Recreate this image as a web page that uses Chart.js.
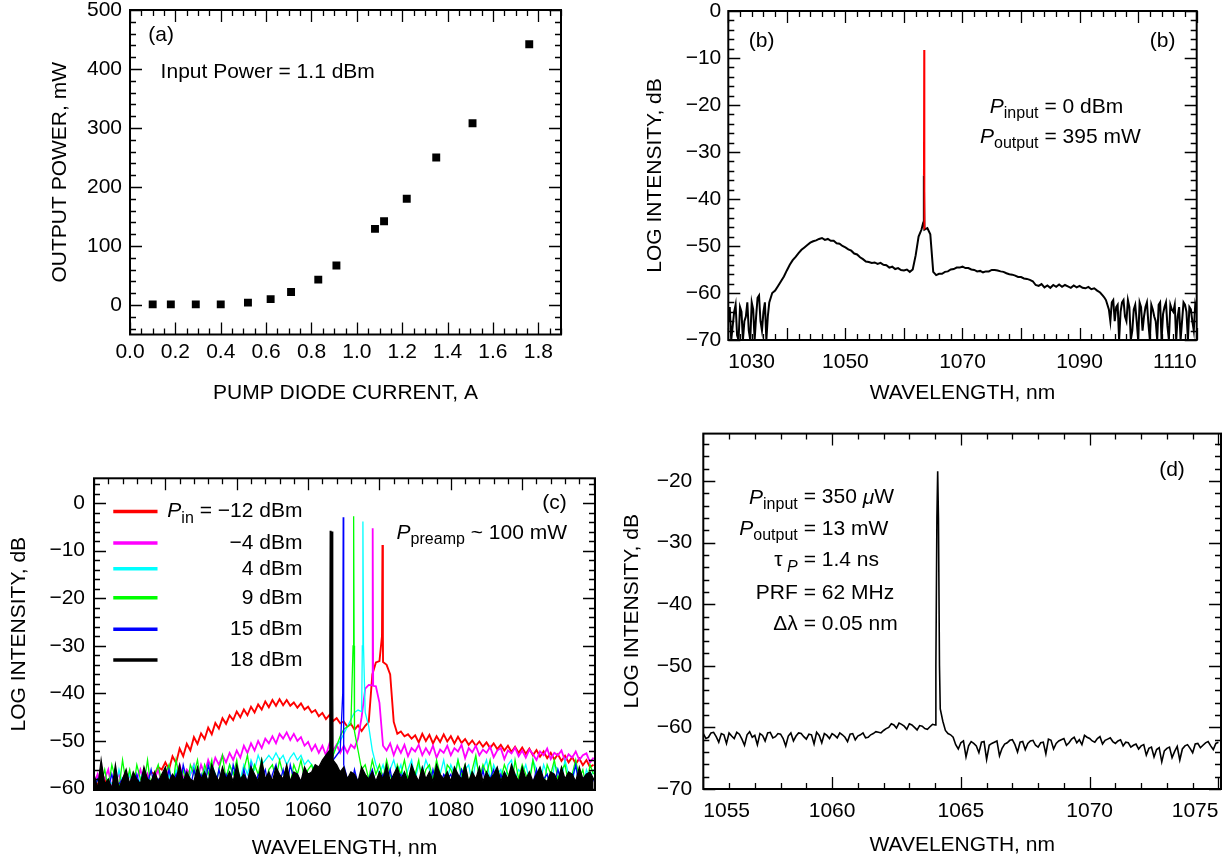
<!DOCTYPE html>
<html>
<head>
<meta charset="utf-8">
<script src="https://cdn.jsdelivr.net/npm/chart.js@4.4.1/dist/chart.umd.min.js"></script>
<style>
  body { margin: 0; background: #fff; width: 1231px; height: 863px; overflow: hidden; position: relative; }
  canvas { position: absolute; }
</style>
</head>
<body>
<canvas id="ca" width="600" height="440" style="left:0;top:-20px"></canvas>
<canvas id="cb" width="616" height="440" style="left:615px;top:-20px"></canvas>
<canvas id="cc" width="615" height="423" style="left:0;top:440px"></canvas>
<canvas id="cd" width="616" height="453" style="left:615px;top:410px"></canvas>
<script>
// ---------- (a) output power vs pump current ----------
const pumpCurrent = [0.10, 0.18, 0.29, 0.40, 0.52, 0.62, 0.71, 0.83, 0.91, 1.08, 1.12, 1.22, 1.35, 1.51, 1.76];
const outputPower = [1, 1, 1, 1, 4, 10, 22, 43, 67, 129, 142, 180, 250, 308, 442];
const xTicksA = [0, 0.2, 0.4, 0.6, 0.8, 1.0, 1.2, 1.4, 1.6, 1.8];
const yTicksA = [0, 100, 200, 300, 400, 500];

// ---------- (b) spectrum, 1030..1110 nm every 0.5 nm ----------
const startB = 1030, stepB = 0.5;
const specB = [
  -66, -70, -64, -69, -63, -70, -65, -68, -62, -70,
  -61, -66, -64, -70, -62, -60, -59.5, -58.5, -57.5, -56.5,
  -55.2, -54, -53, -52.3, -51.5, -50.8, -50.3, -49.8, -49.3, -49,
  -48.8, -48.5, -48.3, -48.7, -48.5, -48.9, -48.9, -49.4, -49.5, -50.0,
  -50.3, -50.7, -51.0, -51.6, -51.8, -52.4, -52.8, -53.3, -53.4, -53.6,
  -53.5, -53.8, -53.6, -54.0, -54.1, -54.6, -54.4, -54.9, -54.7, -55.1,
  -55.2, -55.0, -55.5, -55.0, -52, -48, -46.5, -46.5, -46.2, -47.5,
  -55.5, -56.2, -55.9, -55.9, -55.5, -55.4, -55.0, -54.9, -54.6, -54.6,
  -54.4, -54.7, -54.7, -55.0, -55.1, -55.4, -55.3, -55.6, -55.4, -55.4,
  -55.1, -55.1, -55.2, -55.4, -55.5, -55.8, -56.0, -56.1, -56.3, -56.6,
  -56.6, -56.9, -57.0, -57.2, -57.5, -58.3, -58.5, -58.1, -58.8, -58.4,
  -58.9, -58.3, -58.7, -58.2, -58.7, -58.3, -58.6, -58.9, -58.4, -58.8,
  -58.5, -58.9, -59.0, -58.7, -59.2, -59.0, -59.5, -59.9, -60.6, -61.5,
  -63.5, -62, -66, -62.5, -64, -61.5, -66, -63, -68, -62.5,
  -70, -63, -65, -62, -70, -63.5, -66, -62.5, -70, -63,
  -67, -62.5, -64, -70, -63, -66, -62.5, -70, -63.5, -68,
  -64
];
// extra readings in the noisy ends of the spectrum
const noiseBx = [
  1030.25, 1030.75, 1031.25, 1031.75, 1032.25, 1032.75, 1033.25, 1033.75, 1034.25, 1034.75, 1035.25, 1035.75, 1036.25, 1036.75,
  1094.25, 1094.75, 1095.25, 1095.75, 1096.25, 1096.75, 1097.25, 1097.75, 1098.25, 1098.75, 1099.25, 1099.75,
  1100.25, 1100.75, 1101.25, 1101.75, 1102.25, 1102.75, 1103.25, 1103.75, 1104.25, 1104.75, 1105.25, 1105.75,
  1106.25, 1106.75, 1107.25, 1107.75, 1108.25, 1108.75, 1109.25, 1109.75
];
const noiseBy = [
  -63, -67, -62.5, -70, -64, -66, -62, -70, -63.5, -65, -60.5, -68, -62, -65,
  -61, -62.5, -66, -61.5, -63, -70, -62, -65, -61.5, -70, -63.5, -66,
  -62, -68, -63, -66.5, -62.5, -65, -70, -62, -64.5, -62, -70, -63.5,
  -62.5, -65, -70, -62, -64, -63, -66, -62.5
];
const peakBx = [1063.3, 1063.4];
const peakBy = [-45, -35];
const signalBx = [1063.4, 1063.45, 1063.5];
const signalBy = [-35, -8.3, -46.5];
const xTicksB = [1030, 1050, 1070, 1090, 1110];
const yTicksB = [0, -10, -20, -30, -40, -50, -60, -70];

// ---------- (c) spectra for several input powers, 1030..1100 nm every 0.5 nm ----------
const startC = 1030, stepC = 0.5;
const redC = [
  -60, -59, -60, -58, -60, -59, -60, -60, -58, -59.5,
  -60, -58, -59, -60, -57, -58, -56.5, -57, -55.5, -56,
  -54.5, -56, -53.2, -54.6, -51.6, -53.2, -50.6, -52, -49.2, -50.6,
  -48.4, -49.6, -47.2, -48.6, -46.2, -47.4, -45.2, -46.4, -44.6, -45.6,
  -43.8, -45.0, -43.4, -44.6, -42.8, -44.0, -42.3, -43.4, -41.7, -42.9,
  -41.4, -42.6, -41.2, -42.5, -41.4, -42.6, -41.9, -43.0, -42.1, -43.4,
  -42.8, -44.0, -43.5, -44.8, -44.1, -45.4, -44.5, -45.8, -45.2, -46.3,
  -45.9, -47.0, -46.4, -47.6, -46.7, -47.9, -46.8, -46, -36, -33.5,
  -33.2, -33.4, -34, -36, -46, -48.5, -48, -49, -48.6, -49.5,
  -48.8, -50.3, -48.5, -50.0, -48.7, -50.5, -49.0, -50.2, -48.6, -50.1,
  -49.0, -50.5, -49.1, -50.4, -49.6, -50.8, -49.9, -51.0, -50.1, -51.2,
  -50.3, -51.5, -50.5, -51.7, -50.8, -52.0, -51.0, -52.3, -51.2, -52.5,
  -51.4, -52.7, -51.6, -53.0, -51.9, -53.3, -52.2, -53.6, -52.5, -53.9,
  -52.8, -54.2, -53.1, -54.5, -53.4, -54.8, -53.7, -55.1, -54.0, -55.5,
  -55
];
const magentaC = [
  -59, -57, -60, -58, -56, -60, -58, -57, -60, -59,
  -57, -60, -58, -56, -59, -57, -60, -58, -56, -59,
  -58, -56, -59, -57, -55, -58, -56, -57, -55, -58,
  -55, -57, -54, -56, -53.5, -55, -53, -54.5, -52.5, -54,
  -52, -53.5, -51, -52.5, -50.5, -52, -50, -51.5, -49.5, -50.5,
  -49, -50.5, -48.5, -49.5, -48.2, -49.8, -48.5, -50, -49.2, -51,
  -50.2, -52, -50.8, -52.5, -51, -53, -50.5, -52, -50.8, -52.5,
  -51, -52.5, -50.8, -51.5, -49.5, -45, -39, -38.2, -38.3, -38.5,
  -42, -51, -52, -50.5, -53, -51, -52.5, -50.8, -53.2, -51.5,
  -52.2, -50.8, -53, -51.5, -52.8, -51, -53.5, -51.8, -52.5, -51,
  -53, -51.5, -52.2, -50.8, -53.6, -51.5, -52.4, -51, -53, -51.8,
  -52.5, -51.2, -53.4, -52, -51.5, -53.8, -52, -52.6, -51.4, -53.2,
  -52, -53.5, -51.8, -52.8, -54, -52.2, -53, -51.6, -53.8, -52.5,
  -53, -52, -54.2, -52.8, -53.5, -52.2, -54, -53, -52.6, -54.5,
  -53.5
];
const cyanC = [
  -59, -60, -57, -60, -58, -59, -60, -56, -59, -60,
  -57, -59, -60, -58, -56, -60, -59, -57, -60, -58,
  -59, -57, -60, -56, -59, -58, -60, -57, -55, -59,
  -58, -56, -59, -55, -57, -60, -56, -58, -55, -57,
  -56, -58, -55, -57, -54, -56, -53, -55, -54, -53,
  -54, -52.5, -54, -53, -55, -53.5, -52.5, -54, -53, -55,
  -54, -55, -56, -57, -56, -58, -55, -53, -51, -50,
  -48.5, -47, -45.5, -44, -43.5, -43.8, -44, -47, -52, -55,
  -57, -55, -58, -56, -54, -57, -55, -59, -56, -54,
  -58, -55, -57, -54, -56, -59, -55, -57, -54, -58,
  -55, -57, -54, -58, -56, -55, -59, -54, -57, -56,
  -54, -58, -55, -57, -56, -59, -55, -54, -58, -56,
  -57, -55, -58, -54, -56, -59, -55, -57, -60, -55,
  -56, -58, -54, -57, -59, -55, -57, -60, -56, -58,
  -56
];
const greenC = [
  -60, -58, -59, -56, -60, -55, -58, -60, -54, -59,
  -56, -60, -55, -58, -59, -54, -60, -57, -55, -59,
  -57, -55, -60, -54, -58, -56, -60, -55, -57, -54,
  -59, -55, -57, -54, -60, -56, -53, -58, -55, -57,
  -54, -59, -56, -53, -58, -55, -57, -54, -60, -56,
  -55, -58, -54, -57, -56, -59, -55, -57, -54, -58,
  -56, -55, -58, -56, -57, -55, -54, -53, -51, -49,
  -47.5, -47, -46.5, -48, -52, -56, -55, -58, -54, -57,
  -55, -58, -54, -57, -60, -55, -57, -54, -58, -56,
  -57, -54, -59, -56, -55, -58, -54, -57, -60, -55,
  -56, -58, -54, -57, -55, -59, -56, -53, -58, -55,
  -57, -54, -59, -56, -58, -55, -57, -60, -54, -58,
  -55, -57, -59, -54, -58, -56, -60, -55, -57, -54,
  -58, -56, -55, -59, -57, -54, -58, -56, -60, -55,
  -57
];
const blueC = [
  -60, -58, -60, -59, -60, -57, -60, -59, -58, -60,
  -59, -60, -57, -60, -58, -59, -56, -60, -58, -59,
  -60, -56, -59, -57, -60, -55, -58, -60, -56, -59,
  -57, -60, -55, -58, -60, -56, -59, -57, -60, -55,
  -58, -60, -56, -59, -55, -60, -57, -58, -56, -60,
  -57, -55, -59, -56, -60, -55, -58, -57, -59, -56,
  -58, -60, -56, -59, -57, -55, -56, -54, -53, -52,
  -55, -58, -60, -56, -59, -57, -60, -58, -56, -59,
  -60, -57, -59, -56, -60, -58, -57, -60, -59, -56,
  -59, -60, -57, -58, -60, -56, -59, -60, -57, -58,
  -57, -60, -59, -56, -58, -60, -57, -59, -60, -56,
  -60, -58, -56, -60, -57, -59, -60, -56, -58, -60,
  -58, -60, -57, -59, -56, -60, -58, -57, -60, -59,
  -56, -59, -60, -57, -58, -55, -60, -58, -57, -60,
  -58
];
const blackC = [
  -57, -60, -54, -59, -58, -60, -55, -60, -58, -56,
  -59, -56.5, -58, -59, -55.5, -58, -58.5, -56.5, -58.5, -57,
  -55.5, -58.5, -57, -58, -55, -58.5, -56.5, -58, -58.5, -55.5,
  -58, -56.5, -58.5, -55, -57, -58.5, -55.5, -58, -56.5, -58.5,
  -55, -58, -57, -58.5, -55.5, -57, -58.5, -54, -58, -56.5,
  -58.5, -55.5, -57, -58, -55, -58.5, -56.5, -57, -58.5, -55.5,
  -57, -56.5, -55, -55.5, -54, -53, -52, -54, -55, -56.5,
  -55.5, -58, -56.5, -57, -58.5, -55.5, -57, -58, -56.5, -58.5,
  -56.5, -58, -55, -58.5, -57, -55.5, -58, -56.5, -58.5, -55,
  -57, -58.5, -55.5, -58, -56.5, -58.5, -55, -57, -58, -56.5,
  -58.5, -55.5, -57, -58, -55, -58.5, -56.5, -58, -55.5, -58.5,
  -56.5, -58, -57, -55.5, -58.5, -56.5, -58, -55, -57, -58.5,
  -55.5, -58, -56.5, -58.5, -57, -55.5, -58, -58.5, -56.5, -57,
  -58.5, -55.5, -58, -56.5, -57, -58.5, -55.5, -58, -57, -56.5,
  -58
];
// narrow signal peaks, added on top of the 0.5 nm grid
const peakRedX = [1070.35, 1070.42, 1070.48], peakRedY = [-28, -8.8, -28];
const peakMagX = [1069.05, 1069.12], peakMagY = [-5.3, -38.4];
const peakCyanX = [1067.6, 1067.68, 1067.76], peakCyanY = [-30, -3.9, -30];
const peakGreenX = [1066.3, 1066.38, 1066.45], peakGreenY = [-30, -2.8, -30];
const peakBlueX = [1064.85, 1064.92, 1064.98], peakBlueY = [-40, -3.0, -40];
const peakBlackX = [1063.05, 1063.1, 1063.2, 1063.35, 1063.45], peakBlackY = [-30, -5.8, -20, -6.0, -40];
const legendC = ['\u221212 dBm', '\u22124 dBm', '4 dBm', '9 dBm', '15 dBm', '18 dBm'];
const colorsC = ['#ff0000', '#ff00ff', '#00ffff', '#00ff00', '#0000ff', '#000000'];
const xTicksC = [1030, 1040, 1050, 1060, 1070, 1080, 1090, 1100];
const yTicksC = [0, -10, -20, -30, -40, -50, -60];

// ---------- (d) pulsed spectrum, 1055..1075 nm every 0.2 nm, plus in-between readings ----------
const startD = 1055, stepD = 0.2;
const specD = [
  -61.0, -61.6, -60.8, -62.4, -61.2, -60.9, -61.8, -61.1, -62.9, -60.7,
  -61.3, -61.0, -62.2, -60.8, -61.5, -61.1, -63.0, -60.9, -61.4, -61.0,
  -61.9, -61.2, -60.8, -62.5, -61.3, -61.0, -61.7, -61.2, -62.3, -61.0,
  -61.4, -60.9, -61.6, -61.0, -60.8, -60.5, -60.0, -59.6, -59.3, -59.8,
  -59.4, -60.0, -59.7, -60.2, -59.9, -59.6, -57, -60.5, -61.2, -62.8,
  -62.5, -64.8, -62.3, -63.0, -62.4, -65.2, -62.6, -62.2, -63.4, -62.5,
  -62.0, -64.0, -62.3, -62.6, -62.1, -63.2, -62.4, -61.9, -63.5, -62.2,
  -61.8, -62.5, -61.6, -62.0, -61.3, -61.8, -62.4, -61.5, -62.1, -61.7,
  -62.6, -62.0, -62.4, -63.2, -62.7, -63.0, -64.5, -63.2, -63.6, -65.6,
  -63.4, -64.9, -63.1, -63.5, -62.8, -64.1, -62.6, -62.9, -62.3, -63.6,
  -62.4
];
const startDmid = 1055.1;
const specDmid = [
  -61.8, -60.9, -61.5, -61.0, -62.6, -61.4, -60.8, -61.9, -61.2, -61.6,
  -62.8, -61.3, -60.9, -61.7, -61.0, -61.8, -61.4, -62.2, -60.9, -61.5,
  -61.1, -62.7, -61.3, -61.0, -61.8, -61.3, -60.9, -61.6, -61.1, -62.0,
  -61.2, -61.7, -61.2, -60.7, -60.9, -60.2, -59.4, -60.1, -59.5, -60.3,
  -59.6, -60.4, -59.8, -60.3, -59.5, -18.4, -59.0, -61.0, -61.6, -63.5,
  -62.2, -63.0, -62.6, -64.1, -62.3, -62.9, -62.4, -64.6, -62.7, -62.1,
  -62.8, -62.4, -63.6, -62.2, -62.9, -62.5, -64.3, -62.1, -62.6, -62.0,
  -62.9, -61.9, -62.5, -62.8, -61.6, -62.2, -61.8, -62.7, -61.9, -62.3,
  -62.2, -63.0, -62.5, -62.9, -63.5, -62.8, -63.4, -64.8, -63.3, -63.8,
  -63.2, -63.9, -65.3, -63.0, -63.4, -62.7, -63.3, -62.5, -63.0, -62.6
];
const peakDx = [1064.03, 1064.07, 1064.13, 1064.17];
const peakDy = [-50, -26, -26, -50];
const xTicksD = [1055, 1060, 1065, 1070, 1075];
const yTicksD = [-20, -30, -40, -50, -60, -70];

// ---------- helpers ----------
const F = '"Liberation Sans", Arial, Helvetica, sans-serif';
Chart.defaults.font.family = F;
Chart.defaults.font.size = 21;
Chart.defaults.color = '#000';

const minus = v => String(v).replace('-', '\u2212');

function grid(start, step, ys) {
  return ys.map((y, i) => ({ x: +(start + i * step).toFixed(3), y }));
}
function pairs(xs, ys) {
  return xs.map((x, i) => ({ x, y: ys[i] }));
}
function merge(...lists) {
  return [].concat(...lists).sort((a, b) => a.x - b.x);
}

const styles = { n: '21px ' + F, i: 'italic 21px ' + F, s: '16px ' + F, si: 'italic 16px ' + F };
function textWidth(ctx, parts) {
  let w = 0;
  for (const [t, k] of parts) { ctx.font = styles[k]; w += ctx.measureText(t).width; }
  return w;
}
function drawParts(ctx, parts, x, y) {
  ctx.textAlign = 'left';
  ctx.textBaseline = 'middle';
  ctx.fillStyle = '#000';
  for (const [t, k] of parts) {
    ctx.font = styles[k];
    ctx.fillText(t, x, k[0] === 's' ? y + 7 : y);
    x += ctx.measureText(t).width;
  }
}
function eqLine(ctx, left, right, xEq, y) {
  drawParts(ctx, left, xEq - 6 - textWidth(ctx, left), y);
  drawParts(ctx, right, xEq, y);
}

// inward tick marks on all four sides plus the box
function frame(spec, draw) {
  return {
    id: 'frame',
    afterDatasetsDraw(chart) {
      const { ctx, chartArea: a, scales: { x, y } } = chart;
      ctx.save();
      ctx.strokeStyle = '#000';
      ctx.lineWidth = 1.3;
      ctx.beginPath();
      for (let n = Math.ceil(x.min / spec.xs - 1e-6); n <= Math.floor(x.max / spec.xs + 1e-6); n++) {
        const p = Math.round(x.getPixelForValue(n * spec.xs)) + 0.5;
        const len = n % spec.xr === 0 ? 12 : 6;
        ctx.moveTo(p, a.bottom); ctx.lineTo(p, a.bottom - len);
        ctx.moveTo(p, a.top); ctx.lineTo(p, a.top + len);
      }
      for (let n = Math.ceil(y.min / spec.ys - 1e-6); n <= Math.floor(y.max / spec.ys + 1e-6); n++) {
        const p = Math.round(y.getPixelForValue(n * spec.ys)) + 0.5;
        const len = n % spec.yr === 0 ? 12 : 6;
        ctx.moveTo(a.left, p); ctx.lineTo(a.left + len, p);
        ctx.moveTo(a.right, p); ctx.lineTo(a.right - len, p);
      }
      ctx.stroke();
      ctx.lineWidth = 2;
      ctx.strokeRect(a.left, a.top, a.right - a.left, a.bottom - a.top);
      ctx.restore();
      if (draw) draw(chart, ctx, v => x.getPixelForValue(v), v => y.getPixelForValue(v));
    }
  };
}

function options(o) {
  return {
    responsive: false, animation: false, devicePixelRatio: 1,
    layout: { padding: { left: 0, top: o.padTop, right: o.padRight, bottom: 0 } },
    plugins: { legend: { display: false }, tooltip: { enabled: false } },
    elements: { line: { tension: 0 } },
    scales: {
      x: {
        type: 'linear', min: o.xMin, max: o.xMax,
        grid: { display: false, drawTicks: false }, border: { display: false },
        ticks: { autoSkip: false, maxRotation: 0, padding: o.xPad, align: o.xAlign, callback: o.xFmt || (v => minus(v)) },
        title: { display: true, text: o.xTitle, padding: { top: 0, bottom: o.xTitlePad } },
        afterBuildTicks: s => { s.ticks = o.xTicks.map(v => ({ value: v })); },
        afterFit: s => { s.height = o.xH; }
      },
      y: {
        type: 'linear', min: o.yMin, max: o.yMax,
        grid: { display: false, drawTicks: false }, border: { display: false },
        ticks: { autoSkip: false, padding: o.yPad, callback: v => minus(v) },
        title: { display: true, text: o.yTitle, padding: { top: o.yTitlePad, bottom: 0 } },
        afterBuildTicks: s => { s.ticks = o.yTicks.map(v => ({ value: v })); },
        afterFit: s => { s.width = o.yW; }
      }
    }
  };
}

// ---------- (a) ----------
new Chart(document.getElementById('ca'), {
  type: 'scatter',
  data: { datasets: [{
    data: pairs(pumpCurrent, outputPower),
    pointStyle: 'rect', pointRadius: 5.6, pointHoverRadius: 5.6, backgroundColor: '#000', borderWidth: 0
  }] },
  options: options({
    padTop: 30, padRight: 39, xH: 85.5, yW: 130,
    xMin: 0, xMax: 1.9, yMin: -50, yMax: 500,
    xTicks: xTicksA, yTicks: yTicksA, xFmt: v => v.toFixed(1), xAlign: 'center',
    xPad: 5, yPad: 8, xTitle: 'PUMP DIODE CURRENT, A', xTitlePad: 14, yTitle: 'OUTPUT POWER, mW', yTitlePad: 48
  }),
  plugins: [frame({ xs: 0.05, xr: 4, ys: 20, yr: 5 }, (c, ctx, X, Y) => {
    drawParts(ctx, [['(a)', 'n']], X(0.081), Y(457));
    drawParts(ctx, [['Input Power = 1.1 dBm', 'n']], X(0.135), Y(395));
  })]
});

// ---------- (b) ----------
new Chart(document.getElementById('cb'), {
  type: 'line',
  data: { datasets: [
    { data: pairs(signalBx, signalBy), borderColor: '#ff0000', borderWidth: 1.8, pointRadius: 0, order: 0 },
    { data: merge(grid(startB, stepB, specB), pairs(noiseBx, noiseBy), pairs(peakBx, peakBy)),
      borderColor: '#000', borderWidth: 2, pointRadius: 0, order: 1 }
  ] },
  options: options({
    padTop: 31, padRight: 34.3, xH: 80, yW: 113.3,
    xMin: 1030, xMax: 1110, yMin: -70, yMax: 0,
    xTicks: xTicksB, yTicks: yTicksB, xAlign: 'inner',
    xPad: 10, yPad: 7, xTitle: 'WAVELENGTH, nm', xTitlePad: 14, yTitle: 'LOG INTENSITY, dB', yTitlePad: 28
  }),
  plugins: [frame({ xs: 2, xr: 5, ys: 2, yr: 5 }, (c, ctx, X, Y) => {
    drawParts(ctx, [['(b)', 'n']], X(1033.5), Y(-6.45));
    drawParts(ctx, [['(b)', 'n']], X(1102.0), Y(-6.45));
    eqLine(ctx, [['P', 'i'], ['input', 's']], [['= 0 dBm', 'n']], X(1084.0), Y(-20.4));
    eqLine(ctx, [['P', 'i'], ['output', 's']], [['= 395 mW', 'n']], X(1084.0), Y(-26.8));
  })]
});

// ---------- (c) ----------
const seriesC = [
  merge(grid(startC, stepC, redC), pairs(peakRedX, peakRedY)),
  merge(grid(startC, stepC, magentaC), pairs(peakMagX, peakMagY)),
  merge(grid(startC, stepC, cyanC), pairs(peakCyanX, peakCyanY)),
  merge(grid(startC, stepC, greenC), pairs(peakGreenX, peakGreenY)),
  merge(grid(startC, stepC, blueC), pairs(peakBlueX, peakBlueY)),
  merge(grid(startC, stepC, blackC), pairs(peakBlackX, peakBlackY))
];
const widthsC = [1.9, 1.8, 1.3, 1.3, 1.3, 1.3];
const legendY = [-1.8, -8.4, -13.8, -19.9, -26.5, -33.0];
new Chart(document.getElementById('cc'), {
  type: 'line',
  data: { datasets: seriesC.map((d, i) => ({
    data: d, borderColor: colorsC[i], borderWidth: widthsC[i], pointRadius: 0, order: 5 - i,
    fill: i === 5 ? 'start' : false, backgroundColor: colorsC[i]
  })) },
  options: options({
    padTop: 38.3, padRight: 20, xH: 73, yW: 94,
    xMin: 1030, xMax: 1100.2, yMin: -60.3, yMax: 5.2,
    xTicks: xTicksC, yTicks: yTicksC, xAlign: 'inner',
    xPad: 8, yPad: 9, xTitle: 'WAVELENGTH, nm', xTitlePad: 2, yTitle: 'LOG INTENSITY, dB', yTitlePad: 7
  }),
  plugins: [frame({ xs: 2, xr: 5, ys: 2, yr: 5 }, (c, ctx, X, Y) => {
    drawParts(ctx, [['(c)', 'n']], X(1092.8), Y(0));
    drawParts(ctx, [['P', 'i'], ['preamp', 's'], [' ~ 100 mW', 'n']], X(1072.4), Y(-6.3));
    ctx.save();
    ctx.lineWidth = 3.5;
    legendC.forEach((label, i) => {
      ctx.strokeStyle = colorsC[i];
      ctx.beginPath();
      ctx.moveTo(X(1032.7), Y(legendY[i]));
      ctx.lineTo(X(1038.9), Y(legendY[i]));
      ctx.stroke();
      const parts = i === 0 ? [['P', 'i'], ['in', 's'], [' = ' + label, 'n']] : [[label, 'n']];
      drawParts(ctx, parts, X(1059.2) - textWidth(ctx, parts), Y(legendY[i]));
    });
    ctx.restore();
  })]
});

// ---------- (d) ----------
new Chart(document.getElementById('cd'), {
  type: 'line',
  data: { datasets: [
    { data: merge(grid(startD, stepD, specD), grid(startDmid, stepD, specDmid), pairs(peakDx, peakDy)),
      borderColor: '#000', borderWidth: 1.6, pointRadius: 0 }
  ] },
  options: options({
    padTop: 20.5, padRight: 10, xH: 74, yW: 88.3,
    xMin: 1055, xMax: 1075.1, yMin: -70, yMax: -12.3,
    xTicks: xTicksD, yTicks: yTicksD, xAlign: 'inner',
    xPad: 10, yPad: 11, xTitle: 'WAVELENGTH, nm', xTitlePad: 5, yTitle: 'LOG INTENSITY, dB', yTitlePad: 5
  }),
  plugins: [frame({ xs: 1, xr: 5, ys: 2, yr: 5 }, (c, ctx, X, Y) => {
    drawParts(ctx, [['(d)', 'n']], X(1072.7), Y(-18.2));
    const xe = X(1058.9);
    eqLine(ctx, [['P', 'i'], ['input', 's']], [['= 350 ', 'n'], ['\u03bc', 'i'], ['W', 'n']], xe, Y(-22.7));
    eqLine(ctx, [['P', 'i'], ['output', 's']], [['= 13 mW', 'n']], xe, Y(-27.8));
    eqLine(ctx, [['\u03c4', 'n'], [' P', 'si']], [['= 1.4 ns', 'n']], xe, Y(-32.9));
    eqLine(ctx, [['PRF', 'n']], [['= 62 MHz', 'n']], xe, Y(-38.2));
    eqLine(ctx, [['\u0394\u03bb', 'n']], [['= 0.05 nm', 'n']], xe, Y(-43.3));
  })]
});
</script>
</body>
</html>
